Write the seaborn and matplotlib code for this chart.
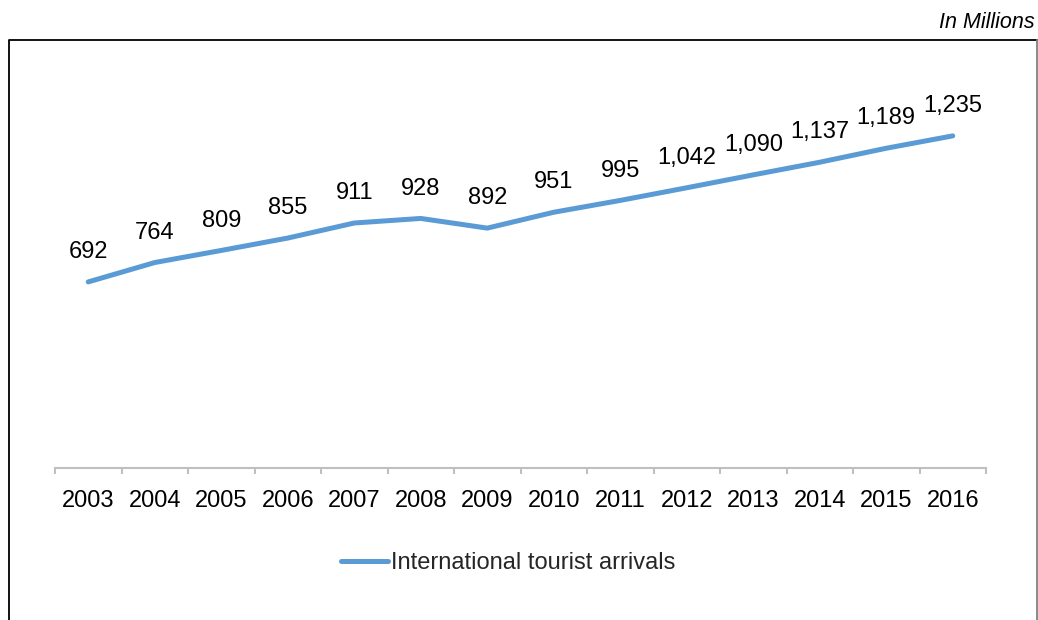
import numpy as np
import pandas as pd
import seaborn as sns
import matplotlib.pyplot as plt
from matplotlib.lines import Line2D

years = ["2003", "2004", "2005", "2006", "2007", "2008", "2009",
         "2010", "2011", "2012", "2013", "2014", "2015", "2016"]
arrivals = [692, 764, 809, 855, 911, 928, 892, 951, 995, 1042, 1090, 1137, 1189, 1235]
series_name = "International tourist arrivals"

sns.set_theme(style="white")
plt.rcParams["font.family"] = ["Liberation Sans", "DejaVu Sans"]

df = pd.DataFrame({"year": years, "arrivals": arrivals})

W, H = 1038, 620
fig = plt.figure(figsize=(W / 100, H / 100), dpi=100)
ax = fig.add_axes([55 / W, (H - 468) / H, (986 - 55) / W, (468 - 91.5) / H])

sns.lineplot(data=df, x="year", y="arrivals", ax=ax, color="#5B9BD5",
             linewidth=3.6, solid_capstyle="round", label=series_name, legend=False)

for i, v in enumerate(arrivals):
    ax.annotate(f"{v:,}", (i, v), xytext=(0, 21.5), textcoords="offset points",
                ha="center", va="center", fontsize=17, color="black")

ax.set_xlim(-0.5, len(years) - 0.5)
ax.set_ylim(0, 1400)
ax.set_xlabel("")
ax.set_ylabel("")
ax.set_yticks([])
for s in ["top", "right", "left"]:
    ax.spines[s].set_visible(False)
ax.spines["bottom"].set_color("#BFBFBF")
ax.spines["bottom"].set_linewidth(1.5)

ax.set_xticks(range(len(years)))
ax.set_xticklabels(years, fontsize=17, color="black")
ax.set_xticks(np.arange(-0.5, len(years)), minor=True)
ax.tick_params(axis="x", which="major", length=0, pad=16, bottom=True)
ax.tick_params(axis="x", which="minor", length=4.5, width=1.5, color="#BFBFBF",
               direction="out", bottom=True)

handles, labels = ax.get_legend_handles_labels()
fig.legend(handles, labels, loc="center", bbox_to_anchor=(508 / W, (H - 563) / H),
           frameon=False, fontsize=17, handlelength=2.0, handletextpad=0.1)

fig.text(1035 / W, (H - 22) / H, "In Millions", ha="right", va="center",
         fontsize=15.5, style="italic", color="black")

# outer frame: black on left/top, grey on the right
top = (H - 39.5) / H
left, right = 8.5 / W, 1037 / W
fig.add_artist(Line2D([left, left, right], [-0.05, top, top],
                      transform=fig.transFigure, color="black", linewidth=1.3))
fig.add_artist(Line2D([right, right], [top, -0.05],
                      transform=fig.transFigure, color="#808080", linewidth=1.3))

fig.savefig("out.png", dpi=100)
